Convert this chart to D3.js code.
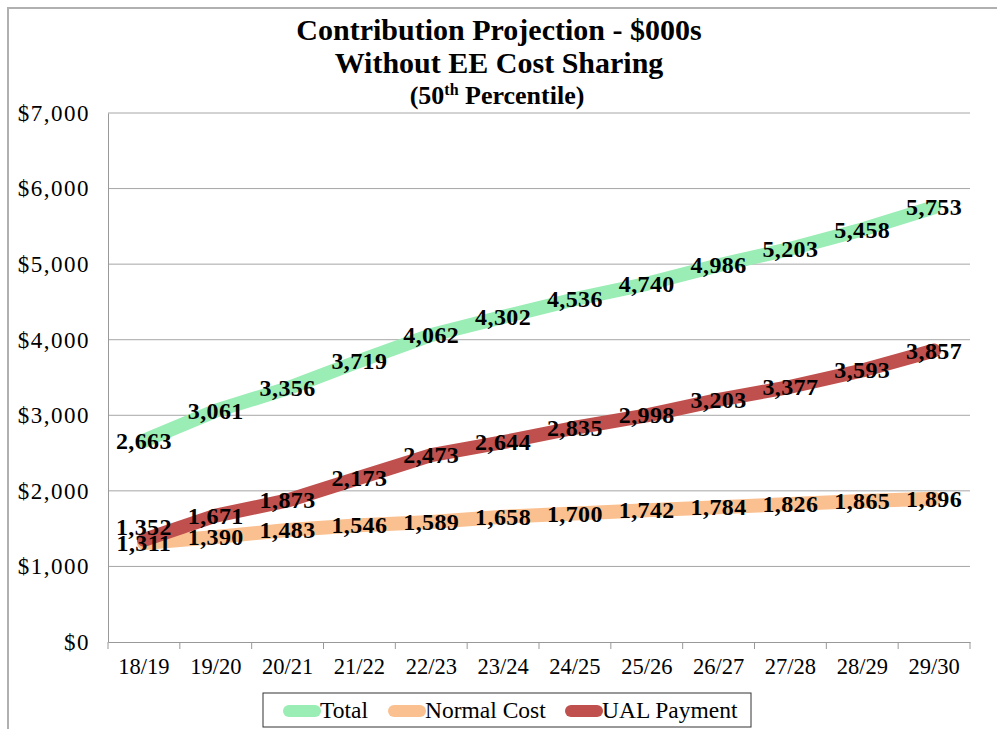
<!doctype html>
<html>
<head>
    <style>
        body { margin: 0; background: #fff; }
        svg text { font-family: "Liberation Serif", "Times New Roman", serif; }
        .grid line { stroke: #a6a6a6; }
        .lbl { font-weight: bold; font-size: 24px; letter-spacing: 0.4px; fill: #000; }
    </style>
    <script src="https://d3js.org/d3.v7.min.js"></script>
</head>
<body>
<svg id="svg" width="997" height="729"></svg>
<script>
var categories = ["18/19", "19/20", "20/21", "21/22", "22/23", "23/24", "24/25", "25/26", "26/27", "27/28", "28/29", "29/30"];
var totalVals = [2663, 3061, 3356, 3719, 4062, 4302, 4536, 4740, 4986, 5203, 5458, 5753];
var normalVals = [1311, 1390, 1483, 1546, 1589, 1658, 1700, 1742, 1784, 1826, 1865, 1896];
var ualVals = [1352, 1671, 1873, 2173, 2473, 2644, 2835, 2998, 3203, 3377, 3593, 3857];
var yTicks = [0, 1000, 2000, 3000, 4000, 5000, 6000, 7000];
var seriesNames = ["Total", "Normal Cost", "UAL Payment"];
var colors = ["#99edb5", "#fac090", "#c0504d"];

var svg = d3.select("#svg"),
    pLeft = 108, pRight = 970, pTop = 113, pBottom = 642;

// outer frame
svg.append("rect")
   .attr("x", 8).attr("y", 8).attr("width", 1100).attr("height", 900)
   .attr("fill", "none").attr("stroke", "#b0b0b0").attr("stroke-width", 2);

// title
var title = svg.append("g").attr("text-anchor", "middle").attr("font-weight", "bold");
title.append("text").attr("x", 499).attr("y", 40).attr("font-size", 30).text("Contribution Projection - $000s");
title.append("text").attr("x", 499).attr("y", 73).attr("font-size", 30).text("Without EE Cost Sharing");
var t3 = title.append("text").attr("x", 497).attr("y", 104).attr("font-size", 26);
t3.append("tspan").text("(50");
t3.append("tspan").attr("font-size", 16).attr("dy", -9).text("th");
t3.append("tspan").attr("dy", 9).text(" Percentile)");

var xScale = d3.scaleBand().domain(categories).range([pLeft, pRight]).padding(0),
    yScale = d3.scaleLinear().domain([0, 7000]).range([pBottom, pTop]);

function cx(i) { return xScale(categories[i]) + xScale.bandwidth() / 2; }

// gridlines
svg.append("g").attr("class", "grid")
   .selectAll("line").data(yTicks.slice(1)).enter().append("line")
   .attr("x1", pLeft).attr("x2", pRight)
   .attr("y1", function(d) { return yScale(d); })
   .attr("y2", function(d) { return yScale(d); });

// y axis
var yAxis = svg.append("g")
   .attr("transform", "translate(" + pLeft + ",0)")
   .call(d3.axisLeft(yScale).tickValues(yTicks).tickSize(0).tickPadding(18)
        .tickFormat(function(d) { return "$" + d3.format(",")(d); }));
yAxis.select(".domain").attr("stroke", "#999");
yAxis.selectAll("text").attr("font-size", 23).attr("letter-spacing", 1.5).attr("fill", "#000");

// x axis
var xAxis = svg.append("g")
   .attr("transform", "translate(0," + pBottom + ")")
   .call(d3.axisBottom(xScale).tickSize(0).tickPadding(16));
xAxis.select(".domain").attr("stroke", "#999");
xAxis.selectAll("text").attr("font-size", 22.5).attr("fill", "#000");
xAxis.selectAll(".bnd").data(categories.concat([null])).enter().append("line")
   .attr("stroke", "#999")
   .attr("x1", function(d, i) { return pLeft + i * xScale.bandwidth(); })
   .attr("x2", function(d, i) { return pLeft + i * xScale.bandwidth(); })
   .attr("y1", 0).attr("y2", 7);

// lines
var series = [totalVals, normalVals, ualVals];
var line = d3.line()
   .x(function(d, i) { return cx(i); })
   .y(function(d) { return yScale(d); });

svg.selectAll(".series").data(series).enter().append("path")
   .attr("d", line)
   .attr("fill", "none")
   .attr("stroke", function(d, i) { return colors[i]; })
   .attr("stroke-width", 14)
   .attr("stroke-linecap", "round")
   .attr("stroke-linejoin", "round");

// data labels
series.forEach(function(vals, s) {
    svg.append("g").selectAll("text").data(vals).enter().append("text")
       .attr("class", "lbl")
       .attr("text-anchor", "middle")
       .attr("dominant-baseline", "central")
       .attr("x", function(d, i) { return cx(i); })
       .attr("y", function(d, i) {
           var y = yScale(d);
           // nudge UAL label up when it would sit on the Normal Cost label
           if (s === 2) {
               var yn = yScale(normalVals[i]);
               if (Math.abs(y - yn) < 16) y = yn - 16;
           }
           return y;
       })
       .text(function(d) { return d3.format(",")(d); });
});

// legend
var legend = svg.append("g");
legend.append("rect")
   .attr("x", 263).attr("y", 693).attr("width", 488).attr("height", 34)
   .attr("fill", "#fff").attr("stroke", "#333").attr("stroke-width", 1);
var legendX = [283, 388, 565];
seriesNames.forEach(function(name, i) {
    legend.append("line")
       .attr("x1", legendX[i] + 6).attr("x2", legendX[i] + 32)
       .attr("y1", 711).attr("y2", 711)
       .attr("stroke", colors[i]).attr("stroke-width", 12).attr("stroke-linecap", "round");
    legend.append("text")
       .attr("x", legendX[i] + 37).attr("y", 718)
       .attr("font-size", 23.5)
       .text(name);
});
</script>
</body>
</html>
